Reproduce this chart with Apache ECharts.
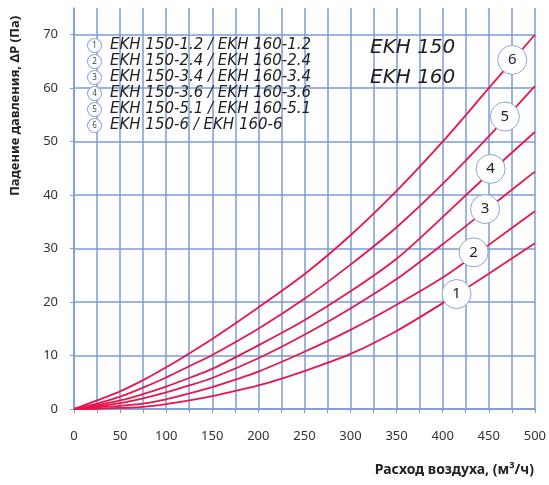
<!DOCTYPE html>
<html>
<head>
    <meta http-equiv="Content-Type" content="text/html; charset=utf-8" />
    <title>EKH 150 / EKH 160</title>
    <style>
        html, body { margin: 0; padding: 0; background: #fff; }
        #main { width: 549px; height: 485px; }
    </style>
</head>
<body>
    <div id="main"></div>
    <script src="https://cdn.jsdelivr.net/npm/echarts@6/dist/echarts.min.js"></script>
    <script type="text/javascript">
        // расход воздуха, м3/ч
        var xFlow = [0, 25, 50, 75, 100, 125, 150, 200, 250, 300, 350, 400, 450, 500];
        // падение давления, Па
        var dp1 = [0, 0.05, 0.2, 0.4, 0.9, 1.6, 2.4, 4.4, 7.1, 10.3, 14.6, 19.8, 25.3, 31];
        var dp2 = [0, 0.3, 0.6, 1.0, 1.8, 2.9, 4.1, 7.0, 10.7, 14.8, 19.5, 24.6, 30.7, 37];
        var dp3 = [0, 0.5, 1.1, 2.0, 3.1, 4.4, 5.8, 9.5, 13.9, 18.8, 24.3, 30.8, 37.6, 44.4];
        var dp4 = [0, 0.7, 1.6, 2.8, 4.2, 5.8, 7.5, 11.9, 16.6, 22.0, 28.1, 35.9, 44.0, 51.8];
        var dp5 = [0, 1.0, 2.3, 4.0, 5.9, 8.0, 10.1, 15.0, 20.6, 27.0, 34.0, 42.1, 51.0, 60.4];
        var dp6 = [0, 1.6, 3.3, 5.4, 7.8, 10.4, 13.1, 19.0, 25.2, 32.5, 40.8, 50.0, 60.0, 70];
        var seriesNames = [
            'EKH 150-1.2 / EKH 160-1.2',
            'EKH 150-2.4 / EKH 160-2.4',
            'EKH 150-3.4 / EKH 160-3.4',
            'EKH 150-3.6 / EKH 160-3.6',
            'EKH 150-5.1 / EKH 160-5.1',
            'EKH 150-6 / EKH 160-6'
        ];
        // where the numbered circle sits on each curve [flow, dp]
        var curveMarks = [[415, 21.5], [433.6, 29.3], [446, 37.4], [452, 44.9], [467.5, 54.7], [475.5, 65.3]];
        var xLabels = [0, 50, 100, 150, 200, 250, 300, 350, 400, 450, 500];
        var yLabels = [0, 10, 20, 30, 40, 50, 60, 70];

        var gridBlue = '#7b9bd6';
        var curveRed = '#e6174d';
        var allDp = [dp1, dp2, dp3, dp4, dp5, dp6];

        var myChart = echarts.init(document.getElementById('main'));

        var option = {
            animation: false,
            backgroundColor: '#fff',
            title: {
                text: 'EKH 150\nEKH 160',
                left: 370,
                top: 33,
                padding: 0,
                textStyle: {
                    fontFamily: 'DejaVu Sans',
                    fontStyle: 'italic',
                    fontWeight: 'normal',
                    fontSize: 20,
                    lineHeight: 30,
                    color: '#1e1e1e'
                }
            },
            legend: {
                orient: 'vertical',
                left: 83,
                top: 38,
                padding: 0,
                itemGap: 1,
                itemWidth: 0,
                itemHeight: 0,
                icon: 'circle',
                selectedMode: false,
                data: seriesNames,
                formatter: function (name) {
                    return '{c|' + (seriesNames.indexOf(name) + 1) + '}{t|' + name + '}';
                },
                textStyle: {
                    rich: {
                        c: {
                            width: 13,
                            height: 13,
                            borderRadius: 7,
                            borderWidth: 1,
                            borderColor: '#8aa6da',
                            backgroundColor: '#fff',
                            align: 'center',
                            fontSize: 8,
                            color: '#444',
                            fontFamily: 'Noto Sans'
                        },
                        t: {
                            padding: [0, 0, 0, 9],
                            fontSize: 15,
                            lineHeight: 20,
                            fontStyle: 'italic',
                            color: '#1e1e1e',
                            fontFamily: 'DejaVu Sans'
                        }
                    }
                }
            },
            grid: {
                left: 74,
                right: 13,
                top: 8,
                bottom: 76
            },
            xAxis: {
                type: 'value',
                min: 0,
                max: 500,
                interval: 25,
                axisLine: { show: true, lineStyle: { color: gridBlue, width: 1.5 } },
                axisTick: { show: true, length: 4, lineStyle: { color: gridBlue } },
                splitLine: { show: true, lineStyle: { color: gridBlue, width: 1.5 } },
                axisLabel: {
                    margin: 21,
                    fontFamily: 'Noto Sans',
                    fontSize: 13,
                    color: '#333',
                    formatter: function (v) {
                        return xLabels.indexOf(v) >= 0 ? String(v) : '';
                    }
                }
            },
            yAxis: {
                type: 'value',
                min: 0,
                max: 75,
                interval: 5,
                axisLine: { show: true, lineStyle: { color: gridBlue, width: 1.5 } },
                axisTick: { show: true, length: 4, customValues: yLabels, lineStyle: { color: gridBlue } },
                splitLine: { show: true, lineStyle: { color: gridBlue, width: 1.5 } },
                axisLabel: {
                    margin: 16,
                    fontFamily: 'Noto Sans',
                    fontSize: 13,
                    color: '#333',
                    formatter: function (v) {
                        return yLabels.indexOf(v) >= 0 ? String(v) : '';
                    }
                }
            },
            graphic: [
                {
                    type: 'text',
                    x: 15,
                    y: 106,
                    rotation: Math.PI / 2,
                    style: {
                        text: 'Падение давления, ΔP (Па)',
                        font: 'bold 13px "Noto Sans"',
                        fill: '#222',
                        align: 'center',
                        verticalAlign: 'middle'
                    }
                },
                {
                    type: 'text',
                    x: 534,
                    y: 470,
                    style: {
                        text: 'Расход воздуха, (м³/ч)',
                        font: 'bold 14px "Noto Sans"',
                        fill: '#222',
                        align: 'right',
                        verticalAlign: 'middle'
                    }
                }
            ],
            series: allDp.map(function (dp, i) {
                return {
                    name: seriesNames[i],
                    type: 'line',
                    smooth: 0.3,
                    symbol: 'none',
                    z: 3,
                    lineStyle: { color: curveRed, width: 1.8 },
                    itemStyle: { color: curveRed },
                    data: xFlow.map(function (x, j) { return [x, dp[j]]; }),
                    markPoint: {
                        symbol: 'circle',
                        symbolSize: 29,
                        silent: true,
                        itemStyle: { color: '#fff', borderColor: '#8aa6da', borderWidth: 1 },
                        label: {
                            show: true,
                            formatter: String(i + 1),
                            fontFamily: 'Noto Sans',
                            fontSize: 15,
                            color: '#222'
                        },
                        data: [{ coord: curveMarks[i] }]
                    }
                };
            })
        };

        myChart.setOption(option);
    </script>
</body>
</html>
